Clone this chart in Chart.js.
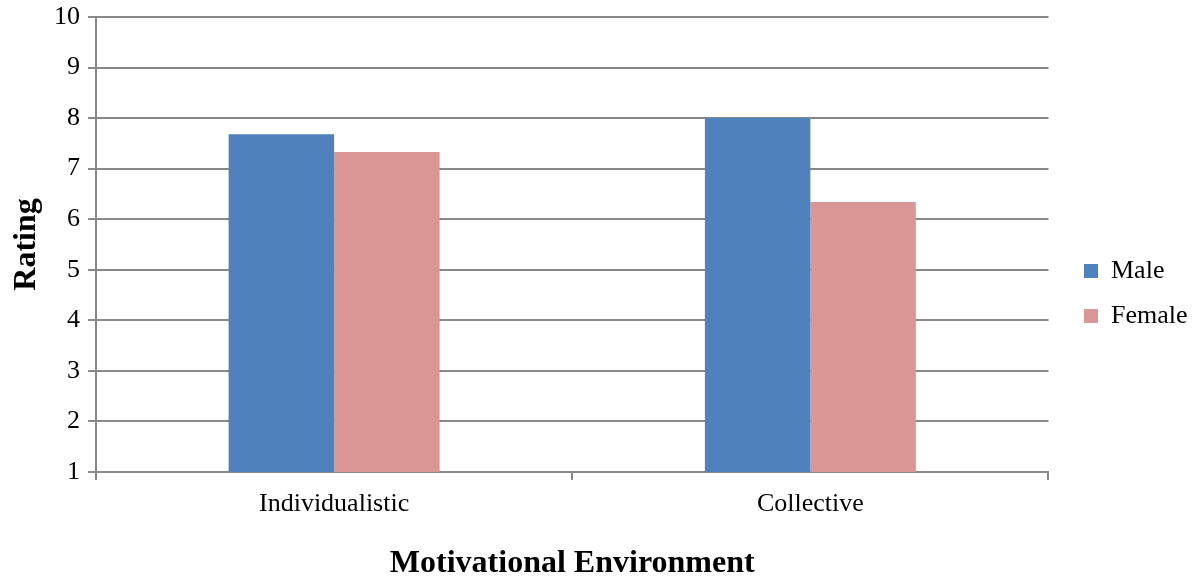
<!DOCTYPE html>
<html>
<head>
<meta charset="utf-8">
<script src="https://cdn.jsdelivr.net/npm/chart.js@4"></script>
<style>
  html, body { margin: 0; padding: 0; background: #fff; }
  #wrap { width: 1196px; height: 578px; }
</style>
</head>
<body>
<div id="wrap"><canvas id="chart"></canvas></div>
<script>
const categories = ['Individualistic', 'Collective'];
const maleRatings = [7.68, 8.0];
const femaleRatings = [7.33, 6.34];
const yTicks = [1, 2, 3, 4, 5, 6, 7, 8, 9, 10];

const serif = '"Liberation Serif", "Times New Roman", serif';
const gridColor = '#888888';
const legendPad = 19;

// nudge the legend to where the original sits (closer to the text)
const legendNudge = {
  id: 'legendNudge',
  afterLayout(chart) {
    const lg = chart.legend;
    if (!lg) return;
    const dx = 1084 - legendPad - lg.left;
    const dy = -4;
    lg.left += dx; lg.right += dx;
    lg.top += dy; lg.bottom += dy;
  }
};

const ctx = document.getElementById('chart').getContext('2d');
new Chart(ctx, {
  type: 'bar',
  data: {
    labels: categories,
    datasets: [
      { label: 'Male', data: maleRatings, backgroundColor: '#4f81bd' },
      { label: 'Female', data: femaleRatings, backgroundColor: '#d99694' }
    ]
  },
  options: {
    responsive: true,
    maintainAspectRatio: false,
    animation: false,
    layout: { padding: { top: 17, right: 15, bottom: 0, left: 0 } },
    datasets: {
      bar: { categoryPercentage: 0.443, barPercentage: 1.0 }
    },
    scales: {
      x: {
        grid: { drawOnChartArea: false, drawTicks: true, tickLength: 8, color: gridColor, lineWidth: 2 },
        border: { display: true, color: gridColor, width: 2 },
        ticks: { color: '#000', font: { family: serif, size: 26 }, padding: 9 },
        title: {
          display: true,
          text: 'Motivational Environment',
          color: '#000',
          font: { family: serif, size: 32, weight: 'bold', lineHeight: 0.9 },
          padding: { top: 20, bottom: 0 }
        },
        afterFit: scale => { scale.height = 578 - 472; }
      },
      y: {
        min: 1,
        max: 10,
        afterBuildTicks: scale => { scale.ticks = yTicks.map(v => ({ value: v })); },
        grid: { color: gridColor, lineWidth: 2, tickLength: 8 },
        border: { display: true, color: gridColor, width: 2 },
        ticks: { color: '#000', font: { family: serif, size: 26 }, padding: 8 },
        title: {
          display: true,
          text: 'Rating',
          color: '#000',
          font: { family: serif, size: 32, weight: 'bold' },
          padding: { top: 8, bottom: 0 }
        },
        afterFit: scale => {
          scale.width = 96;
          scale.paddingTop = 0;
          scale.paddingBottom = 0;
        }
      }
    },
    plugins: {
      legend: {
        position: 'right',
        labels: {
          color: '#000',
          font: { family: serif, size: 26 },
          boxWidth: 14,
          boxHeight: 14,
          padding: legendPad
        }
      },
      tooltip: { enabled: false }
    }
  },
  plugins: [legendNudge]
});
</script>
</body>
</html>
